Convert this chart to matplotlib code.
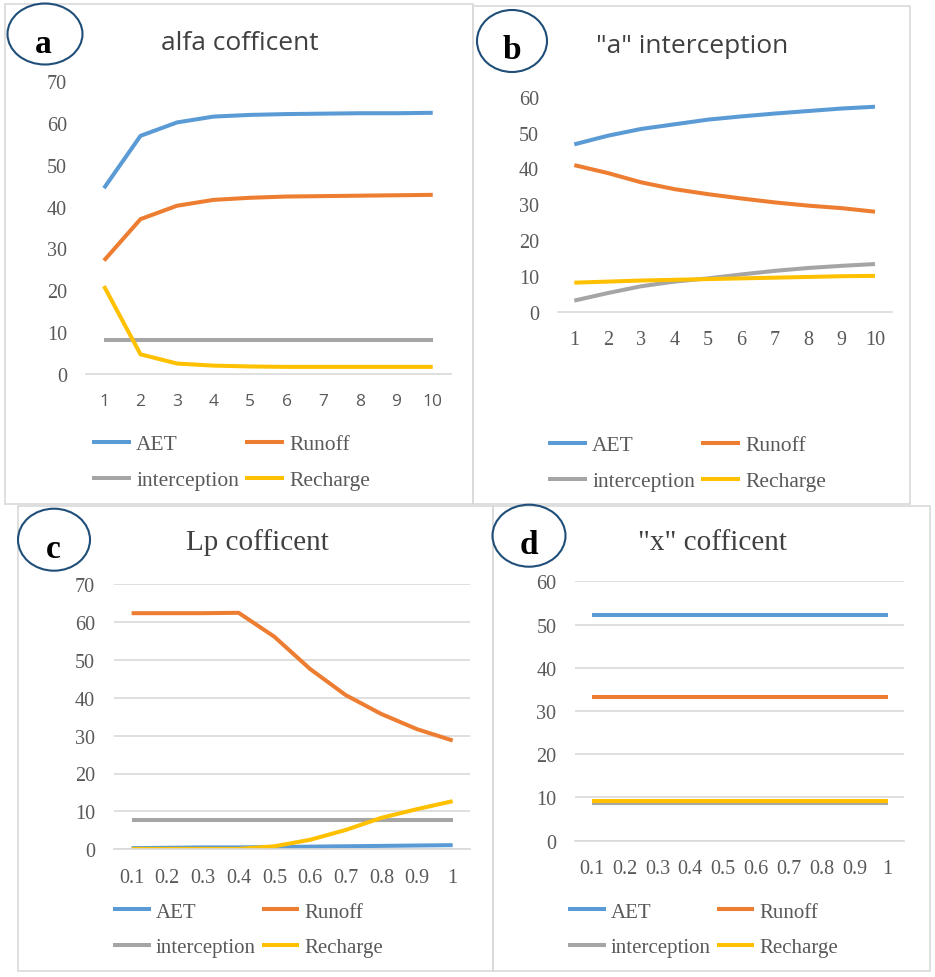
import matplotlib
matplotlib.use("Agg")
import matplotlib.pyplot as plt
from matplotlib.patches import Ellipse, Rectangle

W, H = 935, 978

series_names = ["AET", "Runoff", "interception", "Recharge"]
series_colors = ["#5B9BD5", "#ED7D31", "#A5A5A5", "#FFC000"]

steps = ["1", "2", "3", "4", "5", "6", "7", "8", "9", "10"]
fractions = ["0.1", "0.2", "0.3", "0.4", "0.5", "0.6", "0.7", "0.8", "0.9", "1"]

# (a) alfa coefficient
alfa_aet = [44.4, 56.9, 60.1, 61.5, 61.9, 62.1, 62.2, 62.3, 62.3, 62.4]
alfa_runoff = [27.1, 37.0, 40.2, 41.6, 42.1, 42.4, 42.5, 42.6, 42.7, 42.8]
alfa_interception = [8.2, 8.2, 8.2, 8.2, 8.2, 8.2, 8.2, 8.2, 8.2, 8.2]
alfa_recharge = [21.0, 4.7, 2.5, 2.0, 1.8, 1.7, 1.7, 1.7, 1.7, 1.7]

# (b) "a" interception
a_aet = [46.7, 49.1, 51.0, 52.3, 53.6, 54.5, 55.3, 56.0, 56.7, 57.2]
a_runoff = [40.9, 38.7, 36.1, 34.2, 32.8, 31.6, 30.5, 29.6, 28.9, 27.9]
a_interception = [3.1, 5.2, 7.1, 8.4, 9.3, 10.4, 11.4, 12.2, 12.8, 13.3]
a_recharge = [8.1, 8.4, 8.7, 8.9, 9.1, 9.3, 9.5, 9.7, 9.9, 10.0]

# (c) Lp coefficient
lp_aet = [0.3, 0.4, 0.5, 0.5, 0.6, 0.7, 0.8, 0.9, 1.0, 1.1]
lp_runoff = [62.3, 62.3, 62.3, 62.4, 56.1, 47.6, 40.7, 35.7, 31.7, 28.7]
lp_interception = [7.6, 7.6, 7.6, 7.6, 7.6, 7.6, 7.6, 7.6, 7.6, 7.6]
lp_recharge = [0.1, 0.1, 0.1, 0.1, 0.8, 2.5, 5.1, 8.3, 10.6, 12.7]

# (d) "x" coefficient
x_aet = [52.3] * 10
x_runoff = [33.3] * 10
x_interception = [8.7] * 10
x_recharge = [9.1] * 10

SERIF = "Liberation Serif"
SANS = "Open Sans"
FRAME = "#D9D9D9"
TEXT = "#595959"


def fx(px):
    return px / W


def fy(py):
    return 1 - py / H


def rect(left, top, right, bottom):
    return [fx(left), fy(bottom), (right - left) / W, (bottom - top) / H]


def draw_panel(fig, p):
    left, top, right, bottom = p["frame"]
    fig.add_artist(Rectangle((fx(left), fy(bottom)), (right - left) / W,
                             (bottom - top) / H, transform=fig.transFigure,
                             fill=False, edgecolor=FRAME, lw=1.2))

    ax = fig.add_axes(rect(*p["plot"]))
    x = range(len(p["labels"]))
    for values, name, color in zip(p["series"], series_names, series_colors):
        ax.plot(x, values, color=color, lw=2.9, label=name,
                solid_joinstyle="round", solid_capstyle="butt")

    ax.set_xlim(-0.5, len(p["labels"]) - 0.5)
    ax.set_ylim(0, p["ymax"])
    ax.set_yticks(range(0, p["ymax"] + 1, 10))
    ax.set_xticks(list(x))
    ax.set_xticklabels(p["labels"])
    for s in ["top", "right", "left"]:
        ax.spines[s].set_visible(False)
    ax.spines["bottom"].set_color(FRAME)
    ax.spines["bottom"].set_linewidth(1.2)
    if p["grid"]:
        ax.yaxis.grid(True, color=FRAME, lw=1.2)
        ax.set_axisbelow(True)
    ax.tick_params(axis="both", length=0, colors=TEXT)
    ax.tick_params(axis="y", pad=13.5)
    ax.tick_params(axis="x", pad=13.5)
    for t in ax.get_yticklabels():
        t.set_fontfamily(SERIF)
        t.set_fontsize(14.5)
    for t in ax.get_xticklabels():
        t.set_fontfamily(p["xfont"])
        t.set_fontsize(14.5 if p["xfont"] == SERIF else 12.5)

    tx, ty = p["title_pos"]
    fig.text(fx(tx), fy(ty), p["title"], ha="center", va="baseline",
             fontsize=p["title_size"], family=p["title_font"], color="#404040")

    cx, cy, cw, ch = p["circle"]
    fig.add_artist(Ellipse((fx(cx), fy(cy)), cw / W, ch / H,
                           transform=fig.transFigure, fill=False,
                           edgecolor="#1F4E79", lw=1.5))
    lx, ly = p["letter_pos"]
    fig.text(fx(lx), fy(ly), p["letter"], ha="center", va="baseline",
             fontsize=24, family=SERIF, weight="bold", color="black")

    handles, names = ax.get_legend_handles_labels()
    order = [0, 2, 1, 3]
    gx, gy = p["legend_pos"]
    ax.legend([handles[i] for i in order], [names[i] for i in order],
              ncol=2, loc="upper left", bbox_to_anchor=(fx(gx), fy(gy)),
              bbox_transform=fig.transFigure, frameon=False, borderpad=0,
              borderaxespad=0, handlelength=1.8, handletextpad=0.25,
              columnspacing=0.3, labelspacing=0.75,
              prop={"family": SERIF, "size": p["legend_size"]},
              labelcolor=TEXT)
    return ax


panels = [
    dict(frame=(5, 5, 473, 505), plot=(85.7, 82, 451, 375), ymax=70,
         grid=False, labels=steps, xfont=SANS,
         series=[alfa_aet, alfa_runoff, alfa_interception, alfa_recharge],
         title="alfa cofficent", title_pos=(240, 50), title_font=SANS,
         title_size=19, circle=(45, 35, 75, 61), letter="a",
         letter_pos=(43, 52.7), legend_pos=(92, 435), legend_size=15.5),
    dict(frame=(473, 7, 910, 505), plot=(557.6, 97.7, 891.7, 312.7), ymax=60,
         grid=False, labels=steps, xfont=SERIF,
         series=[a_aet, a_runoff, a_interception, a_recharge],
         title='"a" interception', title_pos=(692, 53), title_font=SANS,
         title_size=19, circle=(512, 42, 70, 62), letter="b",
         letter_pos=(512, 59), legend_pos=(548, 436), legend_size=15.5),
    dict(frame=(18, 507, 493, 972), plot=(113.8, 585, 470.5, 850.3), ymax=70,
         grid=True, labels=fractions, xfont=SERIF,
         series=[lp_aet, lp_runoff, lp_interception, lp_recharge],
         title="Lp cofficent", title_pos=(257, 550), title_font=SERIF,
         title_size=21, circle=(54, 540.7, 72, 62), letter="c",
         letter_pos=(53, 557.7), legend_pos=(113, 903), legend_size=15),
    dict(frame=(493, 507, 930, 972), plot=(575.2, 582.3, 904.2, 841.7), ymax=60,
         grid=True, labels=fractions, xfont=SERIF,
         series=[x_aet, x_runoff, x_interception, x_recharge],
         title='"x" cofficent', title_pos=(712, 550), title_font=SERIF,
         title_size=21, circle=(529, 536.7, 73, 62), letter="d",
         letter_pos=(529, 554.3), legend_pos=(568, 903), legend_size=15),
]

fig = plt.figure(figsize=(W / 100, H / 100), dpi=100)
fig.patch.set_facecolor("white")
for panel in panels:
    draw_panel(fig, panel)

fig.savefig("out.png", dpi=100)
